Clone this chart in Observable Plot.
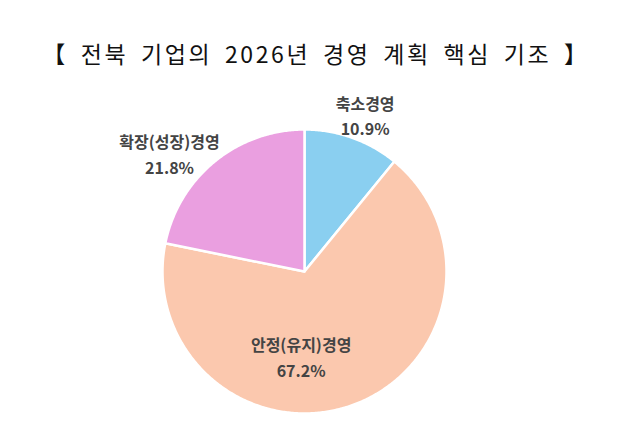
<!DOCTYPE html>
<html>
<head>
<meta charset="utf-8">
<script src="https://cdn.jsdelivr.net/npm/d3@7"></script>
<script src="https://cdn.jsdelivr.net/npm/@observablehq/plot@0.6"></script>
<style>
  html, body { margin: 0; padding: 0; background: #ffffff; }
  #title {
    height: 80px; width: 628px; box-sizing: border-box;
    padding-top: 37px; padding-left: 4px; text-align: center;
    font-family: "Noto Sans CJK KR", sans-serif; font-size: 23px; line-height: 32px;
    color: #111; letter-spacing: 2.6px; word-spacing: 5px; white-space: pre;
  }
  svg { display: block; }
</style>
</head>
<body>
<div id="title">【 전북 기업의 2026년 경영 계획 핵심 기조 】</div>
<div id="chart"></div>
<script>
const categories = ["축소경영", "안정(유지)경영", "확장(성장)경영"];
const shares = [10.9, 67.2, 21.8];
const colors = ["#8ACFF0", "#FBC8AE", "#EA9FE0"];

const pie = d3.pie().sort(null).value((d) => d.share);
const arcs = pie(categories.map((c, i) => ({category: c, share: shares[i]})));

// polygon outline of each slice (unit circle), drawn through Plot scales
const slices = [];
for (const a of arcs) {
  const c = a.data.category;
  slices.push({category: c, x: 0, y: 0});
  const n = Math.max(2, Math.ceil((a.endAngle - a.startAngle) / 0.01));
  for (let k = 0; k <= n; k++) {
    const t = a.startAngle + (a.endAngle - a.startAngle) * k / n;
    slices.push({category: c, x: Math.sin(t), y: Math.cos(t)});
  }
  slices.push({category: c, x: 0, y: 0});
}

const labelR = 0.6;
const labels = arcs.map((a) => {
  const m = (a.startAngle + a.endAngle) / 2;
  return {category: a.data.category, text: `${a.data.category}\n${a.data.share.toFixed(1)}%`,
          x: labelR * Math.sin(m), y: labelR * Math.cos(m)};
});
const offsets = {"축소경영": [32, -77], "안정(유지)경영": [-32, 4], "확장(성장)경영": [-81, -53]};

const textStyle = {
  text: "text", fontSize: 16, fontWeight: 700, lineHeight: 1.6, lineAnchor: "middle",
  fill: "#444444", fontFamily: "Noto Sans CJK KR, sans-serif"
};

const chart = Plot.plot({
  width: 628, height: 359,
  marginLeft: 162, marginRight: 182, marginTop: 49, marginBottom: 26,
  x: {domain: [-1, 1], axis: null},
  y: {domain: [-1, 1], axis: null},
  color: {domain: categories, range: colors},
  style: {background: "#ffffff", overflow: "visible"},
  marks: [
    Plot.line(slices, {x: "x", y: "y", z: "category", fill: "category", stroke: "#ffffff",
      strokeWidth: 2.5, strokeLinejoin: "round", curve: "linear"}),
    ...labels.map((l) => Plot.text([l], {x: "x", y: "y", ...textStyle,
      dx: offsets[l.category][0], dy: offsets[l.category][1]}))
  ]
});
document.getElementById("chart").appendChild(chart);
</script>
</body>
</html>
